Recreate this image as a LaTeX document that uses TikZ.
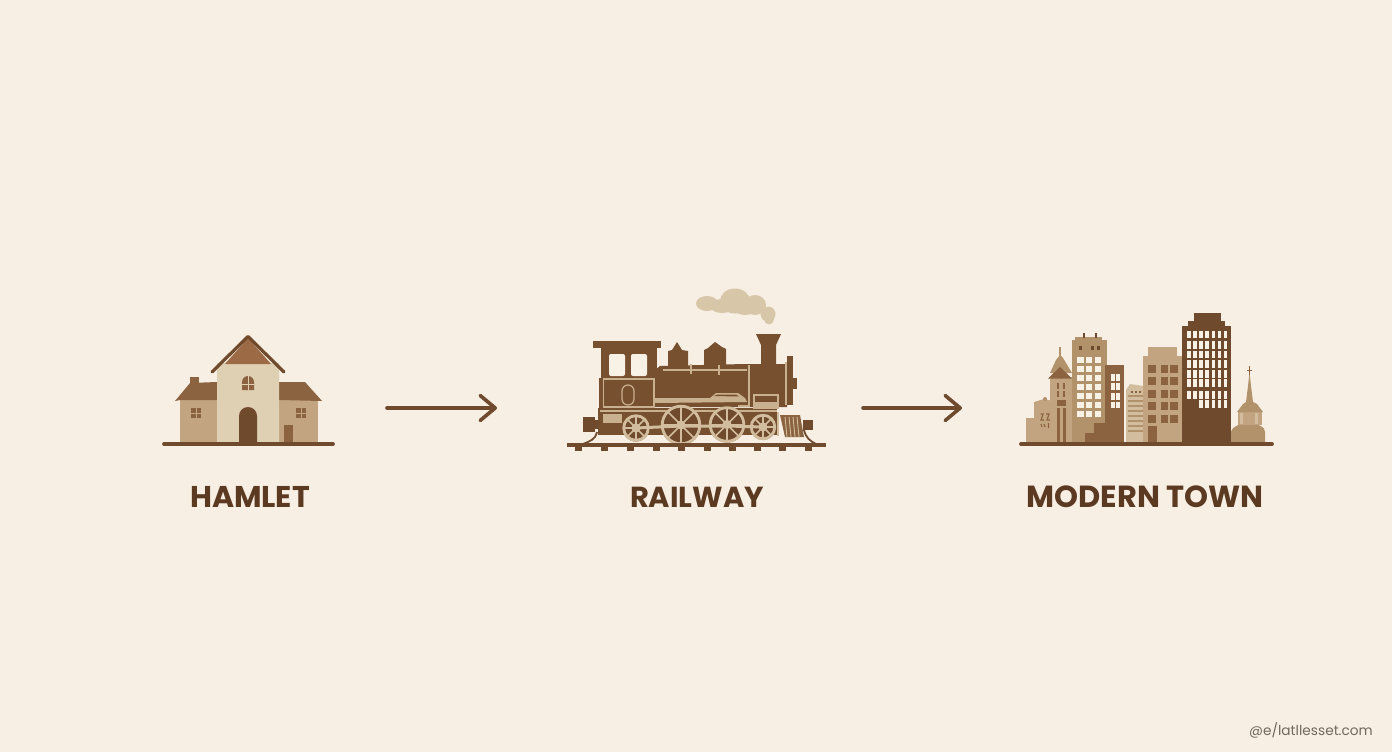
\documentclass[tikz,border=0pt]{standalone}
\usepackage{fontspec}
\setmainfont{Poppins}
\usetikzlibrary{arrows.meta}
\definecolor{bgc}{HTML}{F7EFE4}
\definecolor{dk}{HTML}{6F4A2D}
\definecolor{loco}{HTML}{77502F}
\definecolor{roofc}{HTML}{8B6340}
\definecolor{roofl}{HTML}{9C6B45}
\definecolor{tan}{HTML}{C2A580}
\definecolor{tand}{HTML}{B2926B}
\definecolor{cream}{HTML}{DFCFB3}
\definecolor{lite}{HTML}{D2BE9E}
\definecolor{linec}{HTML}{C9B08E}
\definecolor{smoke}{HTML}{D8C6A8}
\definecolor{txtc}{HTML}{5C3A21}
\definecolor{wm}{HTML}{70675E}
\definecolor{winw}{HTML}{F8F1E6}
\tikzset{
  ground/.style={draw=dk,line width=3.8pt,line cap=round},
  flow/.style={draw=dk,line width=3.6pt,line cap=round,line join=round,-{Straight Barb[length=15pt,width=25pt,line cap=round,line join=round]}},
  caption/.style={font=\fontsize{30}{34}\selectfont\bfseries,text=txtc,inner sep=0pt,anchor=base},
  lineL/.style={draw=linec,line width=1.2pt},
}
\newcommand{\wheel}[3]{%
  \fill[dk] (#1,#2) circle (#3);
  \foreach \a in {0,45,...,315}{\draw[lite,line width=1.6pt] (#1,#2) -- ++(\a:#3-1);}
  \draw[lite,line width=2.8pt] (#1,#2) circle (#3-1.2);
  \fill[lite] (#1,#2) circle (4.6);
}
\begin{document}
\begin{tikzpicture}[x=1pt,y=-1pt]
\useasboundingbox (0,0) rectangle (1392,752);
\fill[bgc] (0,0) rectangle (1392,752);

% ---------- hamlet
\fill[tan] (180,398) rectangle (217,442);
\fill[tan] (279,398) rectangle (318,442);
\fill[roofc] (190,377) rectangle (199,390);
\fill[roofc] (175,401) -- (190,383) -- (217,382) -- (217,400) -- (180,400) -- cycle;
\fill[roofc] (279,382) -- (305,382) -- (322,401) -- (279,400) -- cycle;
\fill[cream] (217,363) -- (225,363) -- (248,342) -- (271,363) -- (279,363) -- (279,442) -- (217,442) -- cycle;
\fill[roofl] (248,338) -- (225,364) -- (271,364) -- cycle;
\draw[dk,line width=3.2pt,line join=round,line cap=round] (212,372) -- (248,336.5) -- (284,372);
\fill[dk] (239,442) -- (239,416) arc (180:360:9) -- (257,442) -- cycle;
\fill[roofc] (283.5,425) rectangle (293,442);
\foreach \xa in {191,296}{
  \fill[roofc] (\xa,408) rectangle ++(10,10);
  \draw[tan,line width=.8pt] (\xa+5,408) -- ++(0,10) (\xa,413) -- ++(10,0);
}
\fill[roofc] (242,390) -- (242,382) arc (180:360:6) -- (254,390) -- cycle;
\draw[cream,line width=.8pt] (248,376) -- (248,390) (242,384) -- (254,384);
\path[ground] (164,444) edge (333,444);

% ---------- locomotive: smoke
\fill[smoke] (707,303.5) ellipse (11 and 7.5);
\fill[smoke] (735,301) ellipse (15 and 12.5);
\fill[smoke] (722,306) ellipse (12 and 7);
\fill[smoke] (755,305) ellipse (11 and 10);
\fill[smoke] (745,308) ellipse (11 and 7);
\fill[smoke] (768,314) ellipse (7.5 and 7.5);
\fill[smoke] (769,319) ellipse (5 and 5.5);
% body
\fill[loco] (593,341) rectangle (661,348);
\fill[loco] (601,348) rectangle (657,380);
\fill[loco] (599,378) rectangle (655,411);
\fill[loco] (655,370) -- (660,366) -- (745,364) -- (787,364) -- (787,407) -- (655,407) -- cycle;
\fill[loco] (656,368) -- (660,368) -- (664,366) -- (664,372) -- cycle;
\fill[loco] (668,368) -- (668,351) -- (672,350) -- (677,342) -- (682,350) -- (688,351) -- (688,368) -- cycle;
\fill[loco] (704,366) -- (704,350) -- (708,348) -- (715,342) -- (722,347) -- (726,349) -- (726,366) -- cycle;
\fill[loco] (756,334) -- (781,334) -- (776,345) -- (776,366) -- (761,366) -- (761,345) -- cycle;
\fill[loco] (787,356) rectangle (793,405);
\fill[loco] (793,378) rectangle (797,389);
\fill[loco] (598,408) rectangle (777,435);
\fill[winw,rounded corners=2pt] (609,354) rectangle (625,376);
\fill[winw,rounded corners=2pt] (631,354) rectangle (647,376);
% cow catcher and couplers
\fill[roofc] (780,415) -- (800,415) -- (804,437) -- (785,437) -- cycle;
\foreach \xb in {785,789,793,797}{\draw[lite,line width=.9pt] (\xb,417) -- (\xb+2,437);}
\draw[lite,line width=1.2pt] (778,412) -- (778,436);
\fill[dk] (583,417) rectangle (595,432);
\fill[dk] (595,420) rectangle (599,429);
\fill[dk] (803,420) rectangle (813,430);
\draw[dk,line width=1.8pt] (597,432) .. controls (595,440) and (590,441) .. (583,444);
\draw[dk,line width=1.8pt] (804,430) .. controls (806,438) and (810,441) .. (816,444);
% light lines
\draw[lineL] (603.5,379) -- (654,379) -- (654,407) -- (603.5,407) -- cycle;
\draw[lineL] (622,391) arc (180:360:6) -- (634,399) arc (0:180:6) -- cycle;
\fill[linec] (655,398) -- (710,398) -- (716,393) -- (738,393) -- (745,398) -- (747,402) -- (655,403) -- cycle;
\fill[loco] (714,396) -- (717.5,394.5) -- (736,394.5) -- (739,396.5) -- cycle;
\draw[lineL] (663,370) -- (747,370);
\draw[lineL] (691,364) -- (691,374) (719,365) -- (719,375);
\draw[lineL] (749,365) -- (749,406) -- (738,406);
\draw[lineL] (786,362) -- (786,405);
\draw[lineL] (754,395) rectangle (778,408);
\fill[linec] (754,402) rectangle (778,408);
\fill[linec] (603,414) rectangle (622,423);
\draw[linec,line width=1.2pt] (600,411) -- (777,411);
% wheels
\wheel{636}{428}{13.5}
\wheel{681}{425}{20}
\wheel{727}{424.5}{18}
\wheel{763}{427}{13}
\draw[lite,line width=3pt] (636,428) -- (681,426) -- (727,426) -- (763,427);
% rail
\fill[dk] (567,442.5) rectangle (826,446.5);
\foreach \xt in {578,604,630,656,681,707,732,757,782,808}{\fill[dk] (\xt-3.5,446) rectangle (\xt+3.5,451);}

% ---------- city
\fill[tan] (1026,418) rectangle (1057,442);
\fill[tan] (1034,402) -- (1044,399) -- (1057,402) -- (1057,420) -- (1034,420) -- cycle;
\fill[tand] (1045,399) circle (2);
\draw[roofc,line width=1.1pt] (1040.5,414) -- (1043,414) -- (1041,420) -- (1044,420) (1046,414) -- (1049,414) -- (1047,420) -- (1050,420) (1041,424) -- (1042,427) (1044,424) -- (1045,427) (1048.5,423) -- (1048.5,428);
\fill[tan] (1050,377) rectangle (1072,442);
\fill[tand] (1060,355) -- (1063,358) -- (1072,373) -- (1050,373) -- (1056,360) -- cycle;
\draw[tand,line width=1.4pt] (1060,347) -- (1060,357);
\fill[roofc] (1060,367) -- (1048,378.5) -- (1072,378.5) -- cycle;
\foreach \xd in {1057,1063}{
  \fill[roofc] (\xd,383) rectangle ++(2.4,6);
  \fill[roofc] (\xd,391) rectangle ++(2.4,6);
  \fill[roofc] (\xd,408) rectangle ++(3,34);
}
\fill[roofc] (1057,400) rectangle (1065.5,406);
\fill[tand] (1072,340) rectangle (1107,442);
\fill[tand] (1075,337) rectangle (1102,342);
\fill[dk] (1082.5,333) rectangle (1084.5,338);
\fill[dk] (1095,333) rectangle (1097,338);
\foreach \xd in {1079,1091,1097}{\fill[dk] (\xd,346) rectangle ++(3,4);}
\foreach \xe/\we in {1077/7,1086/6,1095/6}{\foreach \ye in {357,366,375,384,393,402,411}{\fill[winw] (\xe,\ye) rectangle ++(\we,6);}}
\fill[roofc] (1105,365) rectangle (1124,442);
\foreach \xf in {1111,1116}{\foreach \yf/\hh in {374/7,383/6.5,393/7,402/6}{\fill[winw] (\xf,\yf) rectangle ++(3.5,\hh);}}
\fill[roofc] (1085,442) -- (1085,433) -- (1094,433) -- (1094,423) -- (1105,423) -- (1105,442) -- cycle;
\fill[lite] (1126,390) -- (1130,384) -- (1144,386) -- (1144,442) -- (1126,442) -- cycle;
\foreach \yg in {395,400,405,410,415,420,425,430}{\fill[tand] (1128,\yg) rectangle (1144,\yg+1.8);}
\foreach \xg in {1131,1135,1139}{\fill[roofc] (\xg,393) rectangle ++(2,-2.5);}
\fill[tan] (1148,347) rectangle (1177,358);
\fill[tan] (1143,356) rectangle (1182,442);
\foreach \xh in {1148,1160.5,1170}{\foreach \yh in {364.5,377,390,402,414.5}{\fill[roofc] (\xh,\yh) rectangle ++(7.5,8);}}
\fill[roofc] (1148,426) rectangle (1157,442);
\fill[dk] (1188,321) rectangle (1225,326);
\fill[dk] (1194,313) rectangle (1221,322);
\fill[dk] (1182,326) rectangle (1231,442);
\foreach \xi in {1187,1193,1199,1205,1211.5,1217.5,1223.5}{\foreach \yi in {330.5,341,350.5,360,370,379,391}{\fill[winw] (\xi,\yi) rectangle ++(3.6,7.5);}}
\foreach \xi in {1199,1205,1211.5,1217.5,1223.5}{\fill[winw] (\xi,400) rectangle ++(3.6,7.5);}
% right church
\fill[tand] (1231,442) -- (1231,432) .. controls (1233,425) and (1240,424) .. (1249,424) .. controls (1258,424) and (1265,426) .. (1265,432) -- (1265,442) -- cycle;
\fill[tan] (1238,411) rectangle (1262,425);
\fill[lite] (1240,413) rectangle (1243,424);
\fill[lite] (1255,413) rectangle (1258,424);
\fill[tand] (1237,412) -- (1243,404) -- (1246,402) -- (1248,386) -- (1249.5,372) -- (1251,386) -- (1253,402) -- (1257,404) -- (1263,412) -- cycle;
\draw[roofc,line width=.9pt] (1249.5,366) -- (1249.5,375) (1247.3,370) -- (1251.7,370);
\path[ground] (1021,444) edge (1272,444);

% ---------- captions
\node[caption] (hamlet) at (250,507) {HAMLET};
\node[caption,font=\fontsize{29}{34}\selectfont\bfseries] (railway) at (697,507) {RAILWAY};
\node[caption,font=\fontsize{30.5}{34}\selectfont\bfseries] (town) at (1145,507) {MODERN TOWN};
\node[font=\fontsize{13.7}{17}\selectfont,text=wm,inner sep=0pt,anchor=base east] (mark) at (1373,735) {@e/latllesset.com};

% ---------- connectors
\coordinate (a1) at (387,408);
\coordinate (a2) at (497,408);
\coordinate (b1) at (863,408);
\coordinate (b2) at (962,408);
\draw[flow] (a1) -- (a2);
\draw[flow] (b1) -- (b2);
\end{tikzpicture}
\end{document}
